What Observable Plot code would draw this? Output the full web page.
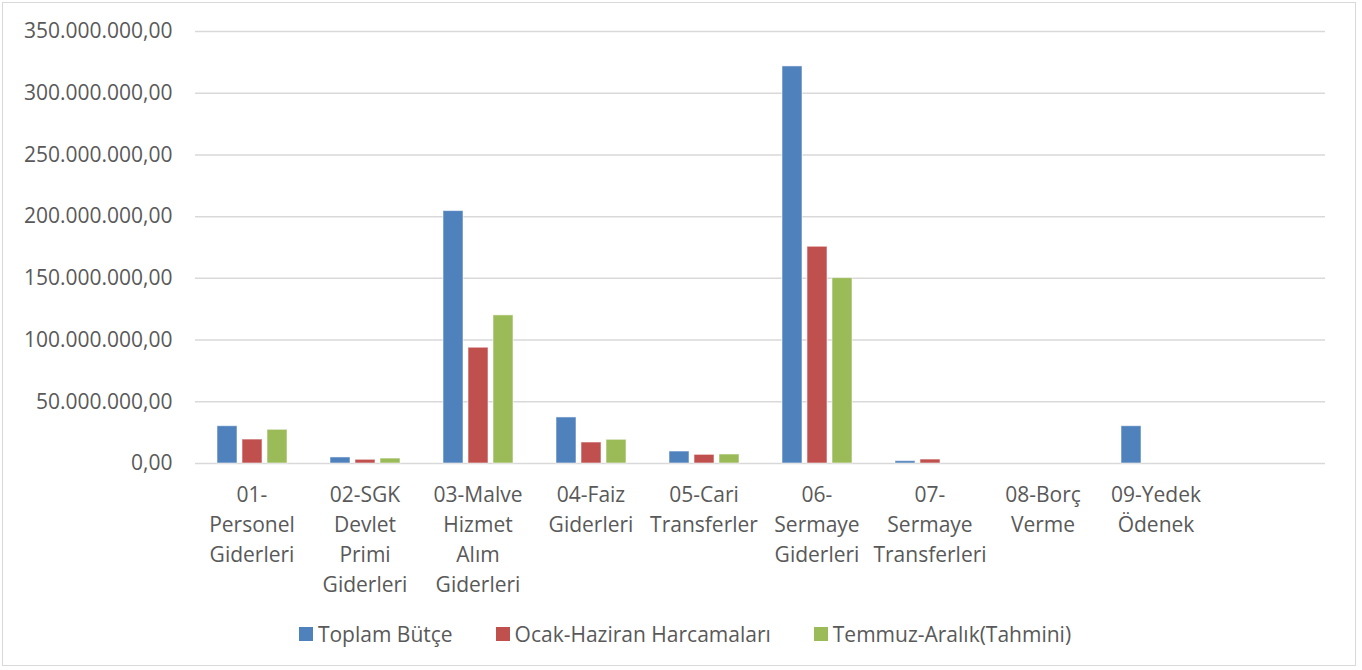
<!DOCTYPE html>
<html>
<head>
<meta charset="utf-8">
<script src="https://cdn.jsdelivr.net/npm/d3@7"></script>
<script src="https://cdn.jsdelivr.net/npm/@observablehq/plot@0.6"></script>
<style>
  html, body { margin: 0; padding: 0; background: #fff; }
  body { width: 1362px; height: 670px; position: relative; overflow: hidden; font-family: "Open Sans", sans-serif; }
  #frame { position: absolute; left: 2px; top: 2px; width: 1354px; height: 664px; border: 1px solid #d9d9d9; box-sizing: border-box; }
  #chart { position: absolute; left: 0; top: 0; }
  #legend { position: absolute; left: 4px; top: 619px; width: 1362px; display: flex; justify-content: center; gap: 43px; font-size: 21px; color: #595959; line-height: 30px; }
  .item { display: flex; align-items: center; gap: 5px; }
  .sw { width: 14px; height: 14px; display: inline-block; }
</style>
</head>
<body>
<div id="frame"></div>
<div id="chart"></div>
<div id="legend"></div>
<script>
const categories = [
  "01-Personel Giderleri",
  "02-SGK Devlet Primi Giderleri",
  "03-Malve Hizmet Alım Giderleri",
  "04-Faiz Giderleri",
  "05-Cari Transferler",
  "06-Sermaye Giderleri",
  "07-Sermaye Transferleri",
  "08-Borç Verme",
  "09-Yedek Ödenek"
];
const categoryLabels = [
  "01-\nPersonel\nGiderleri",
  "02-SGK\nDevlet\nPrimi\nGiderleri",
  "03-Malve\nHizmet\nAlım\nGiderleri",
  "04-Faiz\nGiderleri",
  "05-Cari\nTransferler",
  "06-\nSermaye\nGiderleri",
  "07-\nSermaye\nTransferleri",
  "08-Borç\nVerme",
  "09-Yedek\nÖdenek"
];
const emptySlot = " ";
const series = ["Toplam Bütçe", "Ocak-Haziran Harcamaları", "Temmuz-Aralık(Tahmini)"];
const toplamButce = [30200000, 4900000, 204500000, 37300000, 9700000, 321700000, 1900000, 0, 30200000];
const ocakHaziran = [19400000, 3000000, 93800000, 17000000, 7000000, 175600000, 3200000, 0, 0];
const temmuzAralik = [27300000, 4000000, 120000000, 19200000, 7300000, 150200000, 0, 0, 0];
const colors = ["#4f81bd", "#c0504d", "#9bbb59"];
const yTicks = [0, 50000000, 100000000, 150000000, 200000000, 250000000, 300000000, 350000000];

const seriesValues = [toplamButce, ocakHaziran, temmuzAralik];
const data = [];
categories.forEach((c, i) => {
  series.forEach((s, j) => data.push({category: c, series: s, value: seriesValues[j][i]}));
});
const slots = [...categories, emptySlot];
const grid = [];
slots.forEach(c => yTicks.forEach(v => grid.push({category: c, value: v})));

const trLocale = d3.formatLocale({decimal: ",", thousands: ".", grouping: [3], currency: ["", ""]});
const fmt = trLocale.format(",.2f");
const labelOf = new Map(categories.map((c, i) => [c, categoryLabels[i]]));

const chart = Plot.plot({
  width: 1362,
  height: 615,
  marginLeft: 195,
  marginRight: 37,
  marginTop: 31,
  marginBottom: 152,
  style: {fontFamily: "Open Sans, sans-serif", background: "transparent", color: "#595959"},
  fx: {domain: slots, padding: 0, label: null},
  x: {domain: series, paddingInner: 0.2, paddingOuter: 0.86, axis: null},
  y: {domain: [0, 350000000], label: null},
  color: {domain: series, range: colors},
  marks: [
    Plot.ruleY(grid, {fx: "category", y: "value", stroke: "#d9d9d9", strokeWidth: 1.5}),
    Plot.barY(data.filter(d => d.value > 0), {fx: "category", x: "series", y: "value", fill: "series", stroke: "#ffffff", strokeOpacity: 0.55, strokeWidth: 1}),
    Plot.axisY({ticks: yTicks, tickFormat: fmt, tickSize: 0, tickPadding: 23, fontSize: 21, fill: "#595959", label: null}),
    Plot.axisFx({anchor: "bottom", tickFormat: d => labelOf.get(d) ?? "", tickSize: 0, tickPadding: 17, fontSize: 21, lineHeight: 1.43, fill: "#595959", label: null})
  ]
});
document.getElementById("chart").appendChild(chart);

const legend = document.getElementById("legend");
series.forEach((s, i) => {
  const item = document.createElement("div");
  item.className = "item";
  const sw = document.createElement("span");
  sw.className = "sw";
  sw.style.background = colors[i];
  const t = document.createElement("span");
  t.textContent = s;
  item.appendChild(sw);
  item.appendChild(t);
  legend.appendChild(item);
});
</script>
</body>
</html>
